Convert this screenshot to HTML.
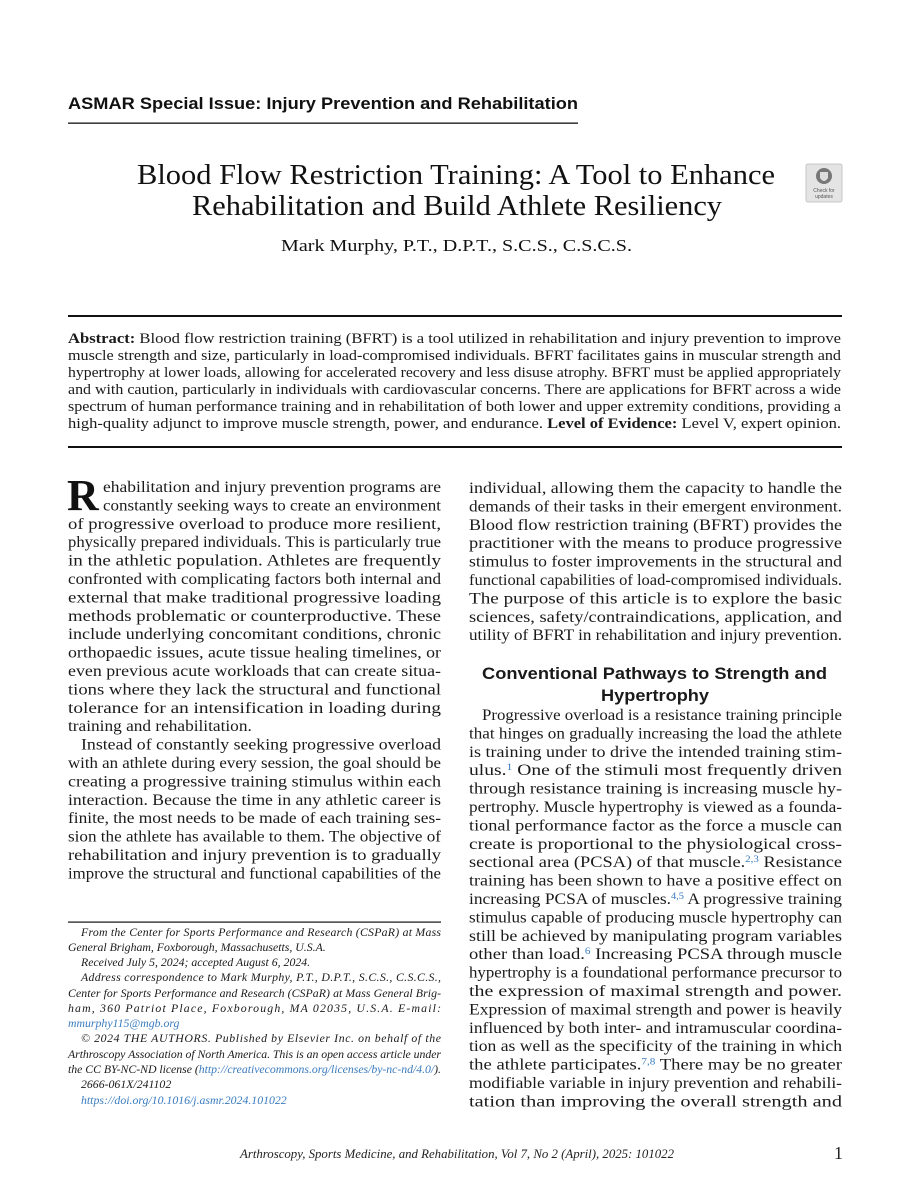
<!DOCTYPE html>
<html><head><meta charset="utf-8"><style>
html,body{margin:0;padding:0;background:#fff;}
svg{display:block;}
</style></head><body>
<svg id="page" xmlns="http://www.w3.org/2000/svg" width="911" height="1200" viewBox="0 0 911 1200">
<rect x="0" y="0" width="911" height="1200" fill="#fff"/>
<text x="68" y="109" font-family="Liberation Sans, sans-serif" font-weight="bold" font-size="17" textLength="510" lengthAdjust="spacingAndGlyphs" fill="#111">ASMAR Special Issue: Injury Prevention and Rehabilitation</text>
<rect x="68" y="122.5" width="510" height="1.3" fill="#111"/>
<text x="137" y="184" font-family="Liberation Serif, serif" font-size="28" textLength="638" lengthAdjust="spacingAndGlyphs" fill="#111">Blood Flow Restriction Training: A Tool to Enhance</text>
<text x="192" y="215" font-family="Liberation Serif, serif" font-size="28" textLength="530" lengthAdjust="spacingAndGlyphs" fill="#111">Rehabilitation and Build Athlete Resiliency</text>
<text x="281" y="251" font-family="Liberation Serif, serif" font-size="17" textLength="351" lengthAdjust="spacingAndGlyphs" fill="#111">Mark Murphy, P.T., D.P.T., S.C.S., C.S.C.S.</text>
<g>
<rect x="806" y="164" width="36" height="38" rx="2" fill="#e4e4e4" stroke="#bbb" stroke-width="0.8"/>
<circle cx="824" cy="176" r="8" fill="#777"/>
<path d="M820 172 L820 178 Q824 184 828 178 L828 172 Z" fill="#ddd"/>
<text x="824" y="192" font-family="Liberation Sans, sans-serif" font-size="5" text-anchor="middle" fill="#555">Check for</text>
<text x="824" y="198" font-family="Liberation Sans, sans-serif" font-size="5" text-anchor="middle" fill="#555">updates</text>
</g>
<rect x="68" y="315" width="774" height="2" fill="#111"/>
<rect x="68" y="446" width="774" height="2" fill="#111"/>
<text x="67" y="510" font-family="Liberation Serif, serif" font-weight="bold" font-size="44" fill="#111">R</text>
<rect x="68" y="921.5" width="373" height="1.2" fill="#111"/>
<text x="240" y="1158" font-family="Liberation Serif, serif" font-style="italic" font-size="12.5" textLength="434" lengthAdjust="spacingAndGlyphs" fill="#222">Arthroscopy, Sports Medicine, and Rehabilitation, Vol 7, No 2 (April), 2025: 101022</text>
<text x="834" y="1159" font-family="Liberation Serif, serif" font-size="18" fill="#222">1</text>
<g id="body"></g>
</svg>
<script>
const NS='http://www.w3.org/2000/svg';
const body=document.getElementById('body');
const BLUE='#3a7bbf';
function addLine(name,x,y,w,spans,opts){
  const t=document.createElementNS(NS,'text');
  
  
  t.setAttribute('x',x);
  t.setAttribute('y',y+opts.off);
  t.setAttribute('font-family',opts.family);
  t.setAttribute('font-size',opts.size);
  if(opts.italic) t.setAttribute('font-style','italic');
  t.setAttribute('fill','#1a1a1a');
  (typeof spans==='string'?[[spans,'']]:spans).forEach(s=>{
    const ts=document.createElementNS(NS,'tspan');
    ts.textContent=s[0];
    if(s[1]==='b') ts.setAttribute('font-weight','bold');
    if(s[1]==='sup'){ts.setAttribute('baseline-shift','super');ts.setAttribute('font-size',opts.size*0.6);ts.setAttribute('fill',BLUE);}
    if(s[1]==='link') ts.setAttribute('fill',BLUE);
    t.appendChild(ts);
  });
  body.appendChild(t);
  if(w>0){t.setAttribute('textLength',w);t.setAttribute('lengthAdjust',opts.adj||'spacing');}
  else if(opts.natScale){const n=t.getComputedTextLength();t.setAttribute('textLength',n*opts.natScale);t.setAttribute('lengthAdjust','spacingAndGlyphs');}
}
const serif={family:'Liberation Serif, serif',size:16,off:5,adj:'spacingAndGlyphs',natScale:1.08};
const abs={family:'Liberation Serif, serif',size:14.5,off:5,adj:'spacingAndGlyphs'};
const foot={family:'Liberation Serif, serif',size:11.8,off:4,italic:true};

const abstractLines=[
 [[['Abstract:','b'],[' Blood flow restriction training (BFRT) is a tool utilized in rehabilitation and injury prevention to improve','']],1],
 ['muscle strength and size, particularly in load-compromised individuals. BFRT facilitates gains in muscular strength and',1],
 ['hypertrophy at lower loads, allowing for accelerated recovery and less disuse atrophy. BFRT must be applied appropriately',1],
 ['and with caution, particularly in individuals with cardiovascular concerns. There are applications for BFRT across a wide',1],
 ['spectrum of human performance training and in rehabilitation of both lower and upper extremity conditions, providing a',1],
 [[['high-quality adjunct to improve muscle strength, power, and endurance. ',''],['Level of Evidence:','b'],[' Level V, expert opinion.','']],1]
];
abstractLines.forEach((l,i)=>addLine('abstract-line',68,338+i*17,l[1]?773:0,l[0],abs));

const leftLines=[
 ['ehabilitation and injury prevention programs are',103,1],
 ['constantly seeking ways to create an environment',103,1],
 ['of progressive overload to produce more resilient,',68,1],
 ['physically prepared individuals. This is particularly true',68,1],
 ['in the athletic population. Athletes are frequently',68,1],
 ['confronted with complicating factors both internal and',68,1],
 ['external that make traditional progressive loading',68,1],
 ['methods problematic or counterproductive. These',68,1],
 ['include underlying concomitant conditions, chronic',68,1],
 ['orthopaedic issues, acute tissue healing timelines, or',68,1],
 ['even previous acute workloads that can create situa-',68,1],
 ['tions where they lack the structural and functional',68,1],
 ['tolerance for an intensification in loading during',68,1],
 ['training and rehabilitation.',68,0],
 ['Instead of constantly seeking progressive overload',81,1],
 ['with an athlete during every session, the goal should be',68,1],
 ['creating a progressive training stimulus within each',68,1],
 ['interaction. Because the time in any athletic career is',68,1],
 ['finite, the most needs to be made of each training ses-',68,1],
 ['sion the athlete has available to them. The objective of',68,1],
 ['rehabilitation and injury prevention is to gradually',68,1],
 ['improve the structural and functional capabilities of the',68,1]
];
leftLines.forEach((l,i)=>addLine('left-body-line',l[1],487+i*18.4,l[2]?441-l[1]:0,l[0],serif));

const rightTop=[
 ['individual, allowing them the capacity to handle the',1],
 ['demands of their tasks in their emergent environment.',1],
 ['Blood flow restriction training (BFRT) provides the',1],
 ['practitioner with the means to produce progressive',1],
 ['stimulus to foster improvements in the structural and',1],
 ['functional capabilities of load-compromised individuals.',1],
 ['The purpose of this article is to explore the basic',1],
 ['sciences, safety/contraindications, application, and',1],
 ['utility of BFRT in rehabilitation and injury prevention.',1]
];
rightTop.forEach((l,i)=>addLine('right-intro-line',469,488+i*18.4,l[1]?373:0,l[0],serif));

const sans={family:'Liberation Sans, sans-serif',size:17,off:6,adj:'spacingAndGlyphs'};
addLine('section-heading',482,673,345,[['Conventional Pathways to Strength and','b']],sans);
addLine('section-heading',601,695,108,[['Hypertrophy','b']],sans);

const rightLines=[
 [[['Progressive overload is a resistance training principle','']],482],
 [[['that hinges on gradually increasing the load the athlete','']],469],
 [[['is training under to drive the intended training stim-','']],469],
 [[['ulus.',''],['1','sup'],[' One of the stimuli most frequently driven','']],469],
 [[['through resistance training is increasing muscle hy-','']],469],
 [[['pertrophy. Muscle hypertrophy is viewed as a founda-','']],469],
 [[['tional performance factor as the force a muscle can','']],469],
 [[['create is proportional to the physiological cross-','']],469],
 [[['sectional area (PCSA) of that muscle.',''],['2,3','sup'],[' Resistance','']],469],
 [[['training has been shown to have a positive effect on','']],469],
 [[['increasing PCSA of muscles.',''],['4,5','sup'],[' A progressive training','']],469],
 [[['stimulus capable of producing muscle hypertrophy can','']],469],
 [[['still be achieved by manipulating program variables','']],469],
 [[['other than load.',''],['6','sup'],[' Increasing PCSA through muscle','']],469],
 [[['hypertrophy is a foundational performance precursor to','']],469],
 [[['the expression of maximal strength and power.','']],469],
 [[['Expression of maximal strength and power is heavily','']],469],
 [[['influenced by both inter- and intramuscular coordina-','']],469],
 [[['tion as well as the specificity of the training in which','']],469],
 [[['the athlete participates.',''],['7,8','sup'],[' There may be no greater','']],469],
 [[['modifiable variable in injury prevention and rehabili-','']],469],
 [[['tation than improving the overall strength and','']],469]
];
rightLines.forEach((l,i)=>addLine('right-body-line',l[1],715+i*18.4,842-l[1],l[0],serif));

const footLines=[
 [[['From the Center for Sports Performance and Research (CSPaR) at Mass','']],81,1,932],
 [[['General Brigham, Foxborough, Massachusetts, U.S.A.','']],68,0,947],
 [[['Received July 5, 2024; accepted August 6, 2024.','']],81,0,962],
 [[['Address correspondence to Mark Murphy, P.T., D.P.T., S.C.S., C.S.C.S.,','']],81,1,977],
 [[['Center for Sports Performance and Research (CSPaR) at Mass General Brig-','']],68,1,993],
 [[['ham, 360 Patriot Place, Foxborough, MA 02035, U.S.A. E-mail:','']],68,1,1008],
 [[['mmurphy115@mgb.org','link']],68,0,1023],
 [[['\u00a9 2024 THE AUTHORS. Published by Elsevier Inc. on behalf of the','']],81,1,1038],
 [[['Arthroscopy Association of North America. This is an open access article under','']],68,1,1054],
 [[['the CC BY-NC-ND license (',''],['http://creativecommons.org/licenses/by-nc-nd/4.0/','link'],[').','']],68,1,1069],
 [[['2666-061X/241102','']],81,0,1084],
 [[['https://doi.org/10.1016/j.asmr.2024.101022','link']],81,0,1100]
];
footLines.forEach(l=>addLine('footnote-line',l[1],l[3],l[2]?441-l[1]:0,l[0],foot));
</script>
</body></html>
